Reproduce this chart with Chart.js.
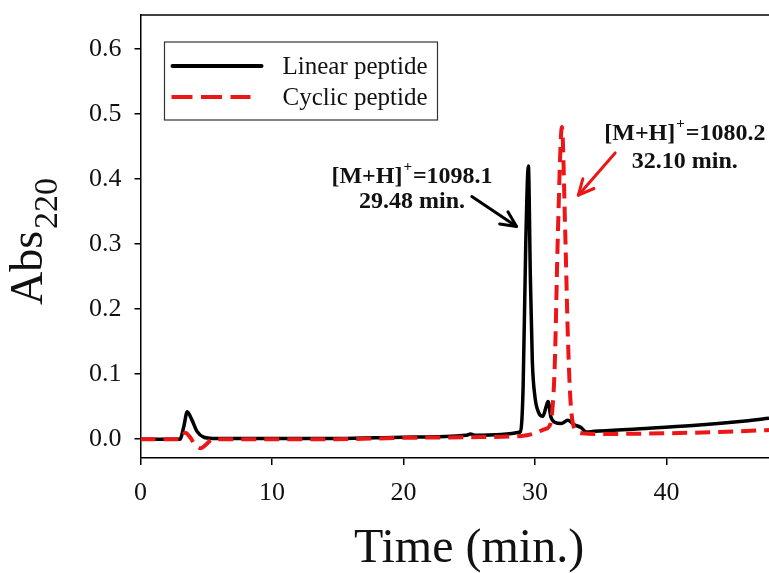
<!DOCTYPE html>
<html>
<head>
<meta charset="utf-8">
<script src="https://cdn.jsdelivr.net/npm/chart.js@4/dist/chart.umd.min.js"></script>
<style>
html,body{margin:0;padding:0;background:#fff;}
#wrap{width:769px;height:573px;position:relative;}
</style>
</head>
<body>
<div id="wrap"><canvas id="c"></canvas></div>
<script>
// ---- Data ----
const linearTime = [0, 3.0, 3.3, 3.55, 3.9, 4.3, 4.8, 5.5, 10, 15, 20, 24.8, 25.1, 25.4, 28.9, 29.1, 29.3, 29.5, 29.65, 29.8, 30.0, 30.3, 30.6, 30.85, 31.0, 31.2, 31.5, 32.0, 32.5, 33.0, 33.5, 33.9, 34.5, 38, 42, 46, 47.8];
const linearAbs  = [0, 0, 0.02, 0.042, 0.03, 0.012, 0.003, 0.001, 0.001, 0.001, 0.003, 0.006, 0.008, 0.006, 0.011, 0.08, 0.3, 0.42, 0.25, 0.12, 0.065, 0.04, 0.035, 0.05, 0.058, 0.035, 0.026, 0.024, 0.029, 0.022, 0.018, 0.011, 0.012, 0.016, 0.021, 0.028, 0.032];
const cyclicTime = [0, 3.1, 3.4, 3.8, 4.2, 4.6, 5.0, 5.5, 10, 15, 20, 25, 29, 30, 30.7, 31.1, 31.3, 31.5, 31.75, 32.05, 32.3, 32.5, 32.7, 33.0, 33.6, 35, 40, 44, 47.8];
const cyclicAbs  = [0, 0, 0.01, 0.002, -0.01, -0.014, -0.008, 0, 0, 0, 0.002, 0.003, 0.005, 0.009, 0.015, 0.02, 0.04, 0.11, 0.32, 0.48, 0.32, 0.16, 0.06, 0.017, 0.009, 0.008, 0.009, 0.011, 0.014];
const seriesNames = ["Linear peptide", "Cyclic peptide"];
const xTickStep = 10;
const yTickStep = 0.1;
// annotation anchors in data units
const annLinear = {label: "[M+H]", sup: "+", rest: "=1098.1", time: "29.48 min.", x: 20.65, y1: 0.394, y2: 0.355, arrowFrom: [25.2, 0.373], arrowTo: [28.6, 0.327]};
const annCyclic = {label: "[M+H]", sup: "+", rest: "=1080.2", time: "32.10 min.", x: 41.4, y1: 0.46, y2: 0.417, arrowFrom: [36.1, 0.44], arrowTo: [33.3, 0.375]};

const RED = 'rgb(236,22,22)';
const SERIF = '"Liberation Serif", "Times New Roman", serif';

const pts = (xs, ys) => xs.map((x, i) => ({x: x, y: ys[i]}));

function drawArrow(ctx, x1, y1, x2, y2, color, lw, head) {
  ctx.save();
  ctx.strokeStyle = color; ctx.lineWidth = lw; ctx.lineCap = 'round'; ctx.lineJoin = 'round';
  ctx.beginPath(); ctx.moveTo(x1, y1); ctx.lineTo(x2, y2); ctx.stroke();
  const a = Math.atan2(y2 - y1, x2 - x1);
  ctx.beginPath();
  ctx.moveTo(x2 - head * Math.cos(a - 0.45), y2 - head * Math.sin(a - 0.45));
  ctx.lineTo(x2, y2);
  ctx.lineTo(x2 - head * Math.cos(a + 0.45), y2 - head * Math.sin(a + 0.45));
  ctx.stroke();
  ctx.restore();
}

function drawAnn(ctx, xs, ys, ann, color) {
  const cx = xs.getPixelForValue(ann.x);
  const b1 = ys.getPixelForValue(ann.y1);
  const b2 = ys.getPixelForValue(ann.y2);
  ctx.save();
  ctx.fillStyle = '#111';
  ctx.textBaseline = 'alphabetic';
  const big = 'bold 24px ' + SERIF, small = 'bold 15px ' + SERIF;
  ctx.font = big; const w1 = ctx.measureText(ann.label).width; const w3 = ctx.measureText(ann.rest).width;
  ctx.font = small; const w2 = ctx.measureText(ann.sup).width + 2;
  let x = cx - (w1 + w2 + w3) / 2;
  ctx.textAlign = 'left';
  ctx.font = big; ctx.fillText(ann.label, x, b1);
  ctx.font = small; ctx.fillText(ann.sup, x + w1 + 1, b1 - 12);
  ctx.font = big; ctx.fillText(ann.rest, x + w1 + w2, b1);
  ctx.textAlign = 'center';
  ctx.fillText(ann.time, cx, b2);
  ctx.restore();
  drawArrow(ctx, xs.getPixelForValue(ann.arrowFrom[0]), ys.getPixelForValue(ann.arrowFrom[1]),
            xs.getPixelForValue(ann.arrowTo[0]), ys.getPixelForValue(ann.arrowTo[1]), color, 3, 17);
}

const decor = {
  id: 'decor',
  afterDraw(chart) {
    const ctx = chart.ctx, ca = chart.chartArea, xs = chart.scales.x, ys = chart.scales.y;
    // top frame line
    ctx.save();
    ctx.strokeStyle = '#000'; ctx.lineWidth = 1.5;
    ctx.beginPath(); ctx.moveTo(ca.left, ca.top); ctx.lineTo(ca.right, ca.top); ctx.stroke();
    ctx.restore();
    // legend box
    const lx = ca.left + 24, ly = ca.top + 27, lw = 273, lh = 78;
    ctx.save();
    ctx.strokeStyle = '#333'; ctx.lineWidth = 1.2;
    ctx.strokeRect(lx, ly, lw, lh);
    ctx.lineCap = 'round';
    ctx.strokeStyle = '#000'; ctx.lineWidth = 4;
    ctx.beginPath(); ctx.moveTo(lx + 8, ly + 24); ctx.lineTo(lx + 97, ly + 24); ctx.stroke();
    ctx.strokeStyle = RED; ctx.lineCap = 'butt'; ctx.setLineDash([21, 8.5]);
    ctx.beginPath(); ctx.moveTo(lx + 7, ly + 55); ctx.lineTo(lx + 86, ly + 55); ctx.stroke();
    ctx.setLineDash([]);
    ctx.fillStyle = '#111'; ctx.font = '25px ' + SERIF; ctx.textAlign = 'left'; ctx.textBaseline = 'alphabetic';
    ctx.fillText(seriesNames[0], lx + 118, ly + 32);
    ctx.fillText(seriesNames[1], lx + 118, ly + 63);
    ctx.restore();
    // annotations
    drawAnn(ctx, xs, ys, annLinear, '#000');
    drawAnn(ctx, xs, ys, annCyclic, RED);
    // axis titles
    ctx.save();
    ctx.fillStyle = '#111';
    ctx.font = '48px ' + SERIF; ctx.textAlign = 'center'; ctx.textBaseline = 'alphabetic';
    ctx.fillText('Time (min.)', 469, 562);
    ctx.translate(42, 305); ctx.rotate(-Math.PI / 2);
    ctx.textAlign = 'left';
    ctx.font = '46px ' + SERIF; ctx.fillText('Abs', 0, 0);
    const w = ctx.measureText('Abs').width;
    ctx.font = '34px ' + SERIF; ctx.fillText('220', w + 2, 15);
    ctx.restore();
  }
};

new Chart(document.getElementById('c'), {
  type: 'line',
  data: {
    datasets: [
      {label: seriesNames[0], data: pts(linearTime, linearAbs), borderColor: '#000', borderWidth: 3.5, pointRadius: 0, cubicInterpolationMode: 'monotone', fill: false, order: 1},
      {label: seriesNames[1], data: pts(cyclicTime, cyclicAbs), borderColor: RED, borderWidth: 4, borderDash: [15, 8], pointRadius: 0, cubicInterpolationMode: 'monotone', fill: false, order: 0}
    ]
  },
  options: {
    responsive: true, maintainAspectRatio: false, animation: false, devicePixelRatio: 1,
    layout: {padding: {top: 15, right: 0, left: 0, bottom: 0}},
    plugins: {legend: {display: false}, tooltip: {enabled: false}},
    scales: {
      x: {
        type: 'linear', position: 'bottom', min: 0, max: 47.8,
        afterFit: s => { s.height = 115; s.paddingRight = 0; },
        ticks: {stepSize: xTickStep, includeBounds: false, color: '#111', font: {family: SERIF, size: 26}, padding: 13, maxRotation: 0},
        grid: {drawOnChartArea: false, drawTicks: true, tickLength: 7, color: '#000', lineWidth: 1.5},
        border: {display: true, color: '#000', width: 1.5}
      },
      y: {
        type: 'linear', min: -0.029, max: 0.652,
        afterFit: s => { s.width = 140.5; s.paddingTop = 0; s.paddingBottom = 0; },
        ticks: {stepSize: yTickStep, includeBounds: false, color: '#111', font: {family: SERIF, size: 26}, padding: 13,
                callback: v => Math.abs(v) < 1e-9 ? '0.0' : Number(v).toFixed(1)},
        grid: {drawOnChartArea: false, drawTicks: true, tickLength: 6, color: '#000', lineWidth: 1.5},
        border: {display: true, color: '#000', width: 1.5}
      }
    }
  },
  plugins: [decor]
});
</script>
</body>
</html>
